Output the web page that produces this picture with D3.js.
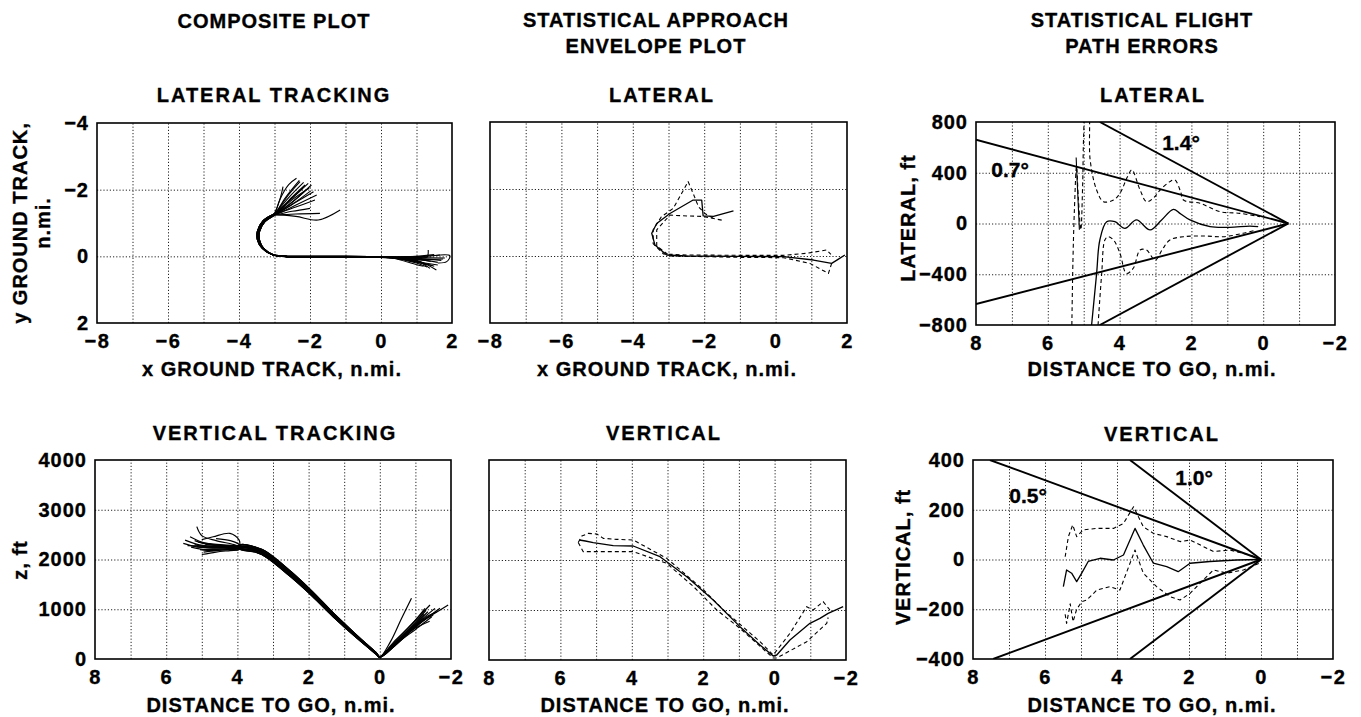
<!DOCTYPE html>
<html>
<head>
<meta charset="utf-8">
<script src="https://cdn.jsdelivr.net/npm/d3@7"></script>
<style>
body { margin: 0; background: #fff; }
text { font-family: "Liberation Sans", Arial, Helvetica, sans-serif; font-weight: bold; fill: #000; stroke: #000; stroke-width: 0.35px; }
</style>
</head>
<body>
<svg id="chart" width="1361" height="717"></svg>
<script>
// ---- tick labels ----
var groundXTicks = [-8, -6, -4, -2, 0, 2];
var groundYTicks = [-4, -2, 0, 2];
var distTicks = [8, 6, 4, 2, 0, -2];
var altTicks = [0, 1000, 2000, 3000, 4000];
var latErrTicks = [800, 400, 0, -400, -800];
var vertErrTicks = [400, 200, 0, -200, -400];

// ---- composite lateral tracking (x, y in n.mi.) ----
var latTrackStarts = [
  [[-2.38,-2.34],[-2.6,-2.15],[-2.85,-1.7],[-2.98,-1.3]],
  [[-2.28,-2.24],[-2.6,-1.85],[-2.95,-1.32]],
  [[-2.14,-2.14],[-2.5,-1.78],[-2.95,-1.3]],
  [[-2.05,-2.19],[-2.45,-1.8],[-2.93,-1.32]],
  [[-1.96,-2.14],[-2.4,-1.72],[-2.92,-1.3]],
  [[-2.2,-2.05],[-2.55,-1.7],[-2.95,-1.3]],
  [[-1.9,-1.94],[-2.4,-1.62],[-2.92,-1.28]],
  [[-1.81,-1.84],[-2.35,-1.56],[-2.93,-1.27]],
  [[-1.86,-1.69],[-2.4,-1.48],[-2.95,-1.27]],
  [[-2.0,-1.44],[-2.5,-1.35],[-2.98,-1.25]],
  [[-1.72,-1.29],[-2.4,-1.27],[-2.98,-1.24]],
  [[-1.15,-1.39],[-1.77,-1.09],[-2.4,-1.2],[-3.0,-1.24]],
  [[-2.3,-2.28],[-2.7,-1.75],[-2.97,-1.3]],
  [[-2.1,-2.0],[-2.5,-1.62],[-2.95,-1.28]],
  [[-2.76,-2.09],[-2.85,-1.7],[-3.0,-1.3]],
  [[-2.0,-1.95],[-2.45,-1.6],[-2.94,-1.28]],
  [[-2.18,-2.22],[-2.55,-1.82],[-2.96,-1.3]],
  [[-2.02,-2.05],[-2.5,-1.7],[-2.94,-1.29]]
];
var latTrackCores = [
  [[-3.03,-1.24],[-3.30,-1.05],[-3.45,-0.75],[-3.45,-0.48],[-3.32,-0.24],[-3.05,-0.05],[-2.7,0.0],[-2.0,0.01],[-1.0,0.01],[-0.3,0.02]],
  [[-3.01,-1.23],[-3.27,-1.04],[-3.42,-0.75],[-3.42,-0.48],[-3.30,-0.23],[-3.02,-0.04],[-2.68,0.01],[-2.0,0.02],[-1.0,0.02],[-0.3,0.03]],
  [[-3.05,-1.25],[-3.33,-1.06],[-3.48,-0.76],[-3.48,-0.49],[-3.35,-0.25],[-3.08,-0.06],[-2.72,-0.01],[-2.0,0.0],[-1.0,0.0],[-0.3,0.01]],
  [[-3.02,-1.24],[-3.28,-1.05],[-3.44,-0.74],[-3.44,-0.47],[-3.31,-0.24],[-3.04,-0.05],[-2.69,0.0],[-2.0,0.01],[-1.0,0.02],[-0.3,0.02]],
  [[-3.04,-1.25],[-3.32,-1.06],[-3.47,-0.75],[-3.46,-0.48],[-3.33,-0.24],[-3.06,-0.05],[-2.71,0.0],[-2.0,0.01],[-1.0,0.01],[-0.3,0.02]]
];
var latTrackEnds = [
  [[0.3,0.05],[1.0,0.12],[1.56,0.41]],
  [[0.3,0.04],[1.0,0.13],[1.38,0.36]],
  [[0.3,0.03],[0.9,0.1],[1.28,0.26]],
  [[0.3,0.02],[1.0,0.02],[1.66,-0.04]],
  [[0.3,0.02],[1.2,0.0],[1.94,-0.02],[1.85,0.16],[1.6,0.2]],
  [[0.3,0.03],[1.0,0.06],[1.7,0.12]],
  [[0.3,0.04],[1.0,0.15],[1.5,0.3]],
  [[0.3,0.02],[1.1,0.04],[1.3,0.02],[1.33,-0.19]],
  [[0.3,0.03],[0.8,0.1],[1.2,0.22]],
  [[0.3,0.04],[1.0,0.18],[1.45,0.28]],
  [[0.3,0.02],[1.0,0.04],[1.8,0.05]],
  [[0.3,0.03],[1.1,0.1],[1.6,0.18]],
  [[0.3,0.03],[0.9,0.08],[1.4,0.15]],
  [[0.3,0.04],[1.0,0.2],[1.3,0.32]],
  [[0.3,0.02],[1.0,0.0],[1.5,-0.05]],
  [[0.3,0.05],[1.0,0.25],[1.2,0.3]],
  [[0.3,0.04],[1.0,0.16],[1.6,0.26]],
  [[0.3,0.03],[1.0,0.09],[1.75,0.08]]
];

// ---- composite vertical tracking (distance to go n.mi., z ft) ----
var vertTrackStarts = [
  [[5.14,2660],[5.0,2480],[4.6,2380],[4.1,2300]],
  [[5.47,2390],[5.1,2300],[4.6,2260],[4.1,2250]],
  [[5.33,2458],[5.0,2350],[4.5,2280],[4.1,2260]],
  [[5.52,2325],[5.1,2250],[4.5,2230],[4.1,2230]],
  [[5.0,2400],[4.68,2457],[4.21,2525],[3.95,2390]],
  [[5.2,2300],[4.8,2250],[4.3,2240],[4.0,2230]],
  [[5.05,2200],[4.7,2180],[4.3,2200],[4.0,2210]],
  [[5.3,2250],[4.9,2200],[4.4,2210],[4.0,2220]],
  [[5.1,2350],[4.8,2320],[4.3,2290],[4.0,2280]],
  [[5.4,2280],[5.0,2270],[4.5,2260],[4.0,2250]],
  [[4.95,2150],[4.6,2180],[4.2,2200],[3.95,2200]],
  [[5.2,2380],[4.8,2300],[4.3,2270],[4.0,2260]],
  [[4.6,2420],[4.2,2380],[3.95,2300]],
  [[5.0,2100],[4.6,2150],[4.2,2180],[3.95,2200]],
  [[5.15,2260],[4.7,2230],[4.2,2240],[3.95,2250]],
  [[4.9,2300],[4.5,2290],[4.1,2270],[3.95,2260]]
];
var vertTrackCores = [
  [[3.9,2250],[3.5,2200],[3.2,2100],[2.5,1700],[1.9,1310],[1.3,880],[0.65,450],[0.1,110],[0.0,40]],
  [[3.9,2300],[3.5,2250],[3.2,2160],[2.5,1760],[1.9,1360],[1.3,920],[0.65,480],[0.1,125],[0.0,45]],
  [[3.9,2200],[3.5,2150],[3.2,2050],[2.5,1650],[1.9,1265],[1.3,845],[0.65,425],[0.1,95],[0.0,35]],
  [[3.9,2270],[3.5,2225],[3.2,2130],[2.5,1730],[1.9,1335],[1.3,900],[0.65,465],[0.1,118],[0.0,42]],
  [[3.9,2225],[3.5,2175],[3.2,2075],[2.5,1675],[1.9,1285],[1.3,860],[0.65,438],[0.1,102],[0.0,38]]
];
var vertTrackEnds = [
  [[-0.3,350],[-0.6,800],[-0.89,1220]],
  [[-0.4,350],[-0.9,700],[-1.27,1018]],
  [[-0.4,330],[-1.0,780],[-1.41,1085]],
  [[-0.4,300],[-1.1,750],[-1.55,1018]],
  [[-0.5,320],[-1.2,780],[-1.5,900],[-1.92,1085]],
  [[-0.4,280],[-1.1,700],[-1.69,1018]],
  [[-0.4,260],[-1.0,640],[-1.32,817]],
  [[-0.4,250],[-0.9,600],[-1.17,750]],
  [[-0.4,270],[-1.1,650],[-1.46,850]],
  [[-0.3,200],[-0.8,520],[-1.08,683]],
  [[-0.4,300],[-1.0,720],[-1.25,900]],
  [[-0.5,330],[-1.2,800],[-1.6,950]],
  [[-0.3,230],[-0.9,580],[-1.4,760]],
  [[-0.4,290],[-1.0,700],[-1.35,950]],
  [[-0.4,280],[-1.0,680],[-1.5,880]],
  [[-0.4,310],[-1.0,740],[-1.3,980]]
];

// ---- statistical envelope, lateral (x, y n.mi.) ----
var latEnvMean = [[-1.18,-1.35],[-1.74,-1.18],[-2.03,-1.2],[-2.07,-1.67],[-2.31,-1.67],[-2.96,-1.27],[-3.33,-0.97],[-3.47,-0.68],[-3.38,-0.33],[-3.05,-0.03],[-2.5,0.0],[-1.0,0.01],[0.22,0.02],[1.06,0.12],[1.57,0.22],[1.75,0.1],[1.94,-0.03]];
var latEnvUpper = [[-1.75,-1.13],[-1.98,-1.27],[-2.16,-1.47],[-2.31,-1.87],[-2.45,-2.22],[-2.63,-1.87],[-2.87,-1.42],[-3.2,-1.17],[-3.43,-0.78],[-3.43,-0.37],[-3.14,-0.06],[-2.5,-0.03],[-1.0,-0.02],[0.2,-0.02],[0.87,-0.08],[1.43,-0.18],[1.55,-0.05]];
var latEnvLower = [[-1.51,-1.07],[-2.03,-1.18],[-2.59,-1.2],[-2.96,-1.22],[-3.33,-0.78],[-3.33,-0.3],[-2.96,0.0],[-1.0,0.04],[0.22,0.05],[0.96,0.22],[1.48,0.52],[1.57,0.22]];

// ---- statistical envelope, vertical (distance, z ft) ----
var vertEnvMean = [[5.47,2400],[5.3,2380],[5.08,2347],[4.52,2287],[3.96,2280],[3.21,2067],[2.46,1667],[1.72,1200],[0.97,667],[0.41,300],[0.04,80],[-0.06,100],[-0.43,400],[-0.99,733],[-1.27,833],[-1.5,933],[-1.92,1067]];
var vertEnvUpper = [[5.5,2350],[5.4,2480],[5.22,2533],[4.98,2520],[4.8,2433],[4.42,2413],[3.96,2400],[3.02,2033],[1.99,1400],[1.43,1000],[0.41,367],[0.04,100],[-0.43,533],[-0.9,1067],[-1.08,1000],[-1.36,1167],[-1.55,1000]];
var vertEnvLower = [[5.5,2350],[5.36,2167],[4.98,2167],[3.96,2167],[3.02,1933],[2.27,1467],[1.62,1000],[0.97,633],[0.04,40],[-0.06,40],[-0.9,367],[-1.46,733],[-1.5,850]];

// ---- flight path errors, lateral (distance, ft) ----
var latErrMean = [[4.78,-800],[4.64,-393],[4.55,-130],[4.36,14],[4.13,14],[3.85,-38],[3.53,28],[3.15,-51],[2.83,28],[2.5,112],[2.32,80],[2.04,28],[1.48,-25],[0.93,-30],[0.37,-20],[0.14,-25]];
var latErrSpike = [[5.12,-50],[5.16,200],[5.2,450],[5.21,520]];
var latErrUpper = [[5.33,-800],[5.3,-300],[5.26,100],[5.2,450],[5.15,200],[5.08,-50],[5.03,300],[5.0,700],[4.95,900],[4.88,900],[4.82,500],[4.64,264],[4.45,172],[4.17,185],[3.99,238],[3.78,369],[3.66,422],[3.43,264],[3.25,172],[3.06,200],[2.87,264],[2.6,330],[2.46,343],[2.3,250],[2.22,185],[1.76,159],[1.2,93],[0.65,80],[0.09,54]];
var latErrLower = [[4.6,-800],[4.5,-400],[4.41,-130],[4.32,-104],[4.17,-130],[3.99,-235],[3.81,-393],[3.62,-353],[3.43,-209],[3.25,-209],[3.01,-288],[2.8,-200],[2.6,-130],[2.22,-104],[1.67,-98],[1.11,-104],[0.56,-77],[0.19,-51]];
var latBeam07 = [[[8,660],[-0.7,0]], [[8,-635],[-0.7,0]]];
var latBeam14 = [[[4.55,800],[-0.7,0]], [[4.55,-800],[-0.7,0]]];
var latBeamLabels = [["0.7°", 7.05, 367], ["1.4°", 2.29, 579]];

// ---- flight path errors, vertical (distance, ft) ----
var vertErrMean = [[5.49,-109],[5.4,-42],[5.26,-55],[5.12,-89],[4.98,-55],[4.8,-8],[4.47,5],[4.1,-2],[3.82,18],[3.5,125],[3.27,58],[2.99,-15],[2.62,-29],[2.3,-49],[1.97,-15],[1.42,-8],[0.68,-2],[0.04,0]];
var vertErrUpper = [[5.44,11],[5.35,92],[5.23,139],[5.12,92],[4.94,119],[4.56,125],[4.1,125],[3.82,145],[3.54,212],[3.27,132],[2.99,105],[2.62,92],[2.25,72],[1.97,78],[1.6,52],[1.32,32],[0.86,38],[0.31,18],[0,0]];
var vertErrLower = [[5.44,-220],[5.4,-257],[5.3,-178],[5.22,-250],[5.12,-200],[4.98,-170],[4.84,-163],[4.56,-123],[4.19,-109],[3.92,-123],[3.5,38],[3.27,-55],[2.9,-109],[2.53,-149],[2.25,-163],[1.97,-136],[1.6,-82],[1.32,-42],[0.95,-55],[0.49,-42],[0.04,-15]];
var vertBeam05 = [[[7.53,400],[0,0]], [[7.44,-400],[0,0]]];
var vertBeam10 = [[[3.64,400],[0,0]], [[3.64,-400],[0,0]]];
var vertBeamLabels = [["0.5°", 6.47, 227], ["1.0°", 1.86, 300]];

var svg = d3.select("#chart");

function makePanel(o) {
  var x = d3.scaleLinear().domain(o.xd).range([o.left, o.right]);
  var y = d3.scaleLinear().domain(o.yd).range([o.top, o.bottom]);
  var h = o.bottom - o.top, w = o.right - o.left;
  var g = svg.append("g");

  svg.append("clipPath").attr("id", "clip" + o.id)
    .append("rect").attr("x", o.left).attr("y", o.top).attr("width", w).attr("height", h);

  // dotted grid
  var gx = g.append("g").attr("transform", "translate(0," + o.bottom + ")")
    .call(d3.axisBottom(x).tickValues(o.xgrid).tickSize(-h).tickFormat(""));
  var gy = g.append("g").attr("transform", "translate(" + o.left + ",0)")
    .call(d3.axisLeft(y).tickValues(o.ygrid).tickSize(-w).tickFormat(""));
  [gx, gy].forEach(function(s) {
    s.select(".domain").remove();
    s.selectAll("line").attr("stroke", "#222").attr("stroke-width", 1).attr("stroke-dasharray", "1.2,2");
  });

  g.append("rect").attr("x", o.left).attr("y", o.top).attr("width", w).attr("height", h)
    .attr("fill", "none").attr("stroke", "#000").attr("stroke-width", 1.6);

  var lx = g.append("g").attr("transform", "translate(0," + o.bottom + ")")
    .call(d3.axisBottom(x).tickValues(o.xlab).tickSize(0).tickPadding(11).tickFormat(d3.format("d")));
  lx.select(".domain").remove();
  lx.attr("font-size", 20).attr("font-family", null)
    .selectAll("text").attr("letter-spacing", "1.5px");

  if (o.ylab) {
    var ly = g.append("g").attr("transform", "translate(" + o.left + ",0)")
      .call(d3.axisLeft(y).tickValues(o.ylab).tickSize(0).tickPadding(8).tickFormat(d3.format("d")));
    ly.select(".domain").remove();
    ly.attr("font-size", 20).attr("font-family", null)
      .selectAll("text").attr("letter-spacing", "1px");
  }

  var plot = g.append("g").attr("clip-path", "url(#clip" + o.id + ")");
  return { x: x, y: y, g: g, plot: plot };
}

function drawLine(p, data, width, dash, curve) {
  var line = d3.line()
    .x(function(d) { return p.x(d[0]); })
    .y(function(d) { return p.y(d[1]); })
    .curve(curve || d3.curveLinear);
  p.plot.append("path").datum(data)
    .attr("d", line)
    .attr("fill", "none")
    .attr("stroke", "#000")
    .attr("stroke-width", width)
    .attr("stroke-linejoin", "round")
    .attr("stroke-dasharray", dash || null);
}

var gridGround = d3.range(-7, 2);
var gridDist = d3.range(7, -2, -1);

// panel 1
var p1 = makePanel({ id: 1, left: 97, right: 452, top: 123, bottom: 323, xd: [-8, 2], yd: [-4, 2],
  xgrid: gridGround, ygrid: [-2, 0], xlab: groundXTicks, ylab: groundYTicks });
latTrackStarts.forEach(function(s, i) {
  drawLine(p1, s.concat(latTrackCores[i % 5], latTrackEnds[i]), 1.1, null, d3.curveCatmullRom);
});

// panel 2
var p2 = makePanel({ id: 2, left: 490, right: 847, top: 122, bottom: 323, xd: [-8, 2], yd: [-4, 2],
  xgrid: gridGround, ygrid: [-2, 0], xlab: groundXTicks });
drawLine(p2, latEnvMean, 1.3);
drawLine(p2, latEnvUpper, 1.1, "4,3");
drawLine(p2, latEnvLower, 1.1, "4,3");

// panel 3
var p3 = makePanel({ id: 3, left: 976, right: 1335, top: 122, bottom: 325, xd: [8, -2], yd: [800, -800],
  xgrid: gridDist, ygrid: [400, 0, -400], xlab: distTicks, ylab: latErrTicks });
latBeam07.concat(latBeam14).forEach(function(b) { drawLine(p3, b, 1.9); });
drawLine(p3, latErrMean, 1.3, null, d3.curveCatmullRom);
drawLine(p3, latErrSpike, 1.1);
drawLine(p3, latErrUpper, 1.1, "4,3", d3.curveCatmullRom);
drawLine(p3, latErrLower, 1.1, "4,3", d3.curveCatmullRom);
p3.g.selectAll(".beamlabel").data(latBeamLabels).enter().append("text")
  .attr("x", function(d) { return p3.x(d[1]); })
  .attr("y", function(d) { return p3.y(d[2]); })
  .attr("text-anchor", "middle").attr("font-size", 21)
  .text(function(d) { return d[0]; });

// panel 4
var p4 = makePanel({ id: 4, left: 95, right: 451, top: 460, bottom: 659, xd: [8, -2], yd: [4000, 0],
  xgrid: gridDist, ygrid: [3000, 2000, 1000], xlab: distTicks, ylab: altTicks });
vertTrackStarts.forEach(function(s, i) {
  drawLine(p4, s.concat(vertTrackCores[i % 5], vertTrackEnds[i]), 1.2, null, d3.curveCatmullRom);
});

// panel 5
var p5 = makePanel({ id: 5, left: 489, right: 846, top: 460, bottom: 660, xd: [8, -2], yd: [4000, 0],
  xgrid: gridDist, ygrid: [3000, 2000, 1000], xlab: distTicks });
drawLine(p5, vertEnvMean, 1.3);
drawLine(p5, vertEnvUpper, 1.1, "4,3");
drawLine(p5, vertEnvLower, 1.1, "4,3");

// panel 6
var p6 = makePanel({ id: 6, left: 973, right: 1333, top: 460, bottom: 659, xd: [8, -2], yd: [400, -400],
  xgrid: gridDist, ygrid: [200, 0, -200], xlab: distTicks, ylab: vertErrTicks });
vertBeam05.concat(vertBeam10).forEach(function(b) { drawLine(p6, b, 1.9); });
drawLine(p6, vertErrMean, 1.3);
drawLine(p6, vertErrUpper, 1.1, "4,3");
drawLine(p6, vertErrLower, 1.1, "4,3");
p6.g.selectAll(".beamlabel").data(vertBeamLabels).enter().append("text")
  .attr("x", function(d) { return p6.x(d[1]); })
  .attr("y", function(d) { return p6.y(d[2]); })
  .attr("text-anchor", "middle").attr("font-size", 21)
  .text(function(d) { return d[0]; });

// titles
var titles = [
  ["COMPOSITE PLOT", 274, 28, 1], ["STATISTICAL APPROACH", 656, 27, 1], ["ENVELOPE PLOT", 656, 53, 1],
  ["STATISTICAL FLIGHT", 1142, 27, 1], ["PATH ERRORS", 1142, 53, 1],
  ["LATERAL TRACKING", 274, 102, 2], ["LATERAL", 662, 102, 2], ["LATERAL", 1153, 102, 2],
  ["VERTICAL TRACKING", 275, 440, 2], ["VERTICAL", 664, 440, 2], ["VERTICAL", 1162, 441, 2],
  ["x GROUND TRACK, n.mi.", 272, 376, 1], ["x GROUND TRACK, n.mi.", 667, 376, 1], ["DISTANCE TO GO, n.mi.", 1152, 376, 1],
  ["DISTANCE TO GO, n.mi.", 271, 712, 1], ["DISTANCE TO GO, n.mi.", 665, 712, 1], ["DISTANCE TO GO, n.mi.", 1152, 712, 1]
];
svg.append("g").selectAll("text").data(titles).enter().append("text")
  .attr("x", function(d) { return d[1]; })
  .attr("y", function(d) { return d[2]; })
  .attr("text-anchor", "middle").attr("font-size", 20)
  .attr("letter-spacing", function(d) { return d[3] + "px"; })
  .text(function(d) { return d[0]; });

var yTitles = [
  ["y GROUND TRACK,", 27, 223], ["n.mi.", 50, 223], ["z, ft", 27, 560],
  ["LATERAL, ft", 915, 218], ["VERTICAL, ft", 910, 557]
];
svg.append("g").selectAll("text").data(yTitles).enter().append("text")
  .attr("transform", function(d) { return "translate(" + d[1] + "," + d[2] + ") rotate(-90)"; })
  .attr("text-anchor", "middle").attr("font-size", 20).attr("letter-spacing", "1px")
  .text(function(d) { return d[0]; });
</script>
</body>
</html>
